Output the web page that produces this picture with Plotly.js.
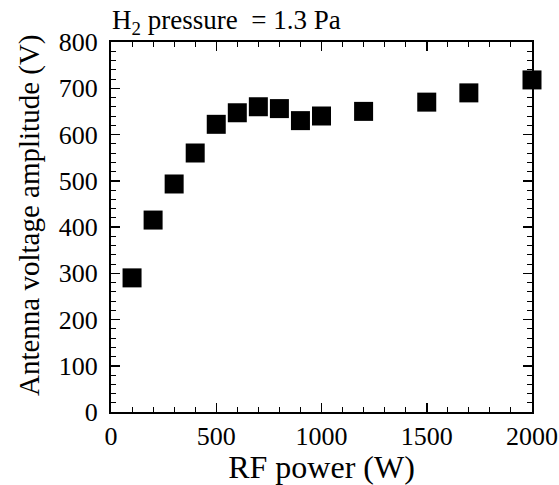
<!DOCTYPE html>
<html>
<head>
<meta charset="utf-8">
<script src="https://cdn.plot.ly/plotly-3.0.1.min.js"></script>
<style>html,body{margin:0;padding:0;background:#fff;}</style>
</head>
<body>
<div id="chart" style="width:559px;height:485px;"></div>
<script>
const rfPower = [100, 200, 300, 400, 500, 600, 700, 800, 900, 1000, 1200, 1500, 1700, 2000];
const antennaVoltage = [290, 415, 493, 560, 622, 647, 660, 656, 630, 640, 650, 670, 690, 718];
const xTicks = [0, 500, 1000, 1500, 2000];
const yTicks = [0, 100, 200, 300, 400, 500, 600, 700, 800];

const fontFam = 'Liberation Serif';

const trace = {
  x: rfPower,
  y: antennaVoltage,
  type: 'scatter',
  mode: 'markers',
  marker: {symbol: 'square', size: 19, color: '#000'},
  cliponaxis: false,
  hoverinfo: 'skip'
};

const axisCommon = {
  showline: true, linecolor: '#000', linewidth: 2, mirror: 'ticks',
  ticks: 'inside', ticklen: 9, tickwidth: 1.5, tickcolor: '#000',
  showgrid: false, zeroline: false,
  tickfont: {family: fontFam, size: 26, color: '#000'}
};

const layout = {
  width: 559, height: 485,
  margin: {l: 111, r: 27, t: 42, b: 73},
  paper_bgcolor: '#fff', plot_bgcolor: '#fff',
  showlegend: false,
  font: {family: fontFam, color: '#000'},
  title: {
    text: 'H<sub>2</sub> pressure  = 1.3 Pa',
    font: {family: fontFam, size: 27, color: '#000'},
    x: 112 / 559, xref: 'container', xanchor: 'left',
    y: 0.96, yref: 'container', yanchor: 'middle'
  },
  xaxis: Object.assign({}, axisCommon, {
    range: [0, 2000], tickvals: xTicks, ticktext: xTicks.map(String),
    ticklabelstandoff: 0,
    minor: {dtick: 100, ticklen: 5, tickwidth: 1, tickcolor: '#000', ticks: 'inside'},
    title: {text: 'RF power (W)', font: {family: fontFam, size: 32, color: '#000'}, standoff: 2}
  }),
  yaxis: Object.assign({}, axisCommon, {
    range: [0, 800], tickvals: yTicks, ticktext: yTicks.map(String),
    ticklabelstandoff: 6,
    minor: {dtick: 20, ticklen: 5, tickwidth: 1, tickcolor: '#000', ticks: 'inside'}
  }),
  annotations: [{
    text: 'Antenna voltage amplitude (V)', textangle: -90,
    xref: 'paper', yref: 'paper', x: -0.195, y: 0.532,
    xanchor: 'center', yanchor: 'middle', showarrow: false,
    font: {family: fontFam, size: 29, color: '#000'}
  }]
};

Plotly.newPlot('chart', [trace], layout, {staticPlot: true, displayModeBar: false});
</script>
</body>
</html>
